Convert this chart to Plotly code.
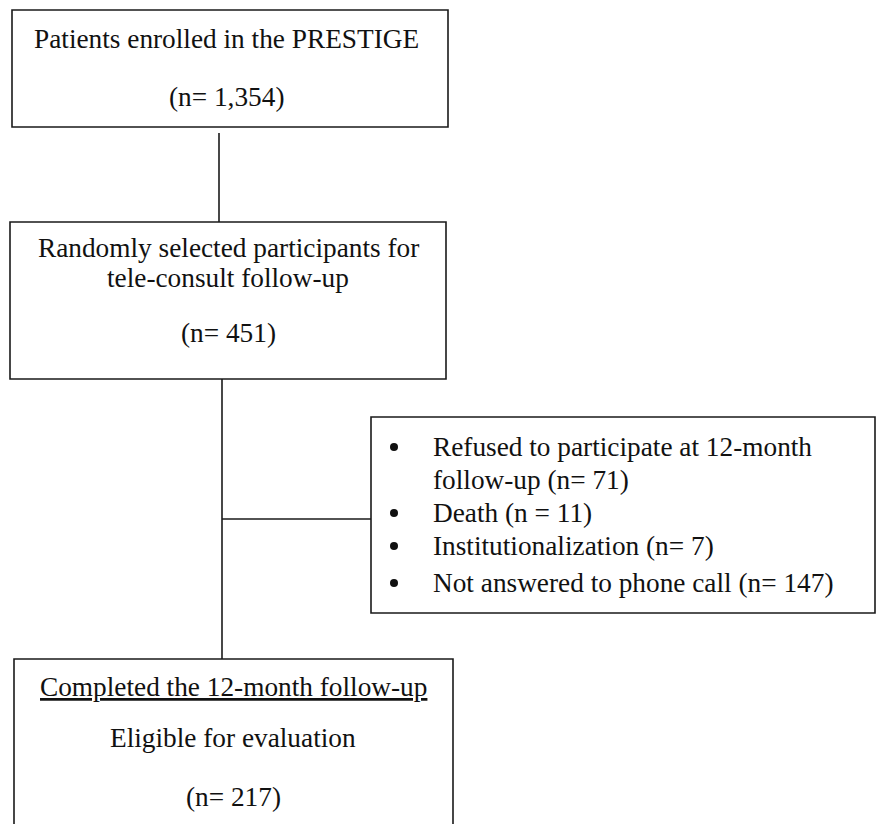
import plotly.graph_objects as go

# ---- data ----
enrolled_label = "Patients enrolled in the PRESTIGE"
enrolled_n = "1,354"
selected_label = ["Randomly selected participants for", "tele-consult follow-up"]
selected_n = "451"
excluded_items = [
    ["Refused to participate at 12-month", "follow-up (n= 71)"],
    ["Death (n = 11)"],
    ["Institutionalization (n= 7)"],
    ["Not answered to phone call (n= 147)"],
]
completed_label = "Completed the 12-month follow-up"
eligible_label = "Eligible for evaluation"
completed_n = "217"

W, H = 877, 824
FONT = "Liberation Serif, Times New Roman, serif"
FS = 27.3
LINE = dict(color="#1a1a1a", width=1.6)

fig = go.Figure()

shapes = []
def box(x0, y0, x1, y1):
    shapes.append(dict(type="rect", x0=x0, y0=y0, x1=x1, y1=y1,
                       xref="x", yref="y", line=LINE, fillcolor="rgba(0,0,0,0)"))
def seg(x0, y0, x1, y1):
    shapes.append(dict(type="line", x0=x0, y0=y0, x1=x1, y1=y1,
                       xref="x", yref="y", line=LINE))

box(12, 10, 448, 127)
box(10, 222, 446, 379)
box(371, 417, 875, 613)
box(14, 659, 453, 840)
seg(219, 133, 219, 222)
seg(222, 379, 222, 659)
seg(222, 519, 371, 519)

ann = []
def txt(x, y, s, xanchor="center", size=FS):
    ann.append(dict(x=x, y=y, xref="x", yref="y", text=s, showarrow=False,
                    xanchor=xanchor, yanchor="middle",
                    font=dict(family=FONT, size=size, color="#111")))

txt(226, 39, enrolled_label)
txt(226, 97, f"(n= {enrolled_n})")
txt(228, 248, selected_label[0])
txt(228, 278, selected_label[1])
txt(228, 333, f"(n= {selected_n})")

ys = [[447, 480], [513], [546], [583]]
bx, by = [], []
for item, yy in zip(excluded_items, ys):
    bx.append(394)
    by.append(yy[0])
    for line, y in zip(item, yy):
        txt(431, y, line, xanchor="left")

fig.add_trace(go.Scatter(x=bx, y=by, mode="markers",
                         marker=dict(size=8, color="#111", symbol="circle"),
                         hoverinfo="skip", showlegend=False))

txt(233, 687, f"<u>{completed_label}</u>")
txt(233, 738, eligible_label)
txt(233, 797, f"(n= {completed_n})")

fig.update_layout(
    width=W, height=H, margin=dict(l=0, r=0, t=0, b=0),
    paper_bgcolor="white", plot_bgcolor="white",
    xaxis=dict(range=[0, W], visible=False, fixedrange=True),
    yaxis=dict(range=[H, 0], visible=False, fixedrange=True),
    shapes=shapes, annotations=ann, showlegend=False,
)
fig.write_html("out.html",
               post_script="document.body.style.margin='0';document.body.style.overflow='hidden';",
               config={"displayModeBar": False})
